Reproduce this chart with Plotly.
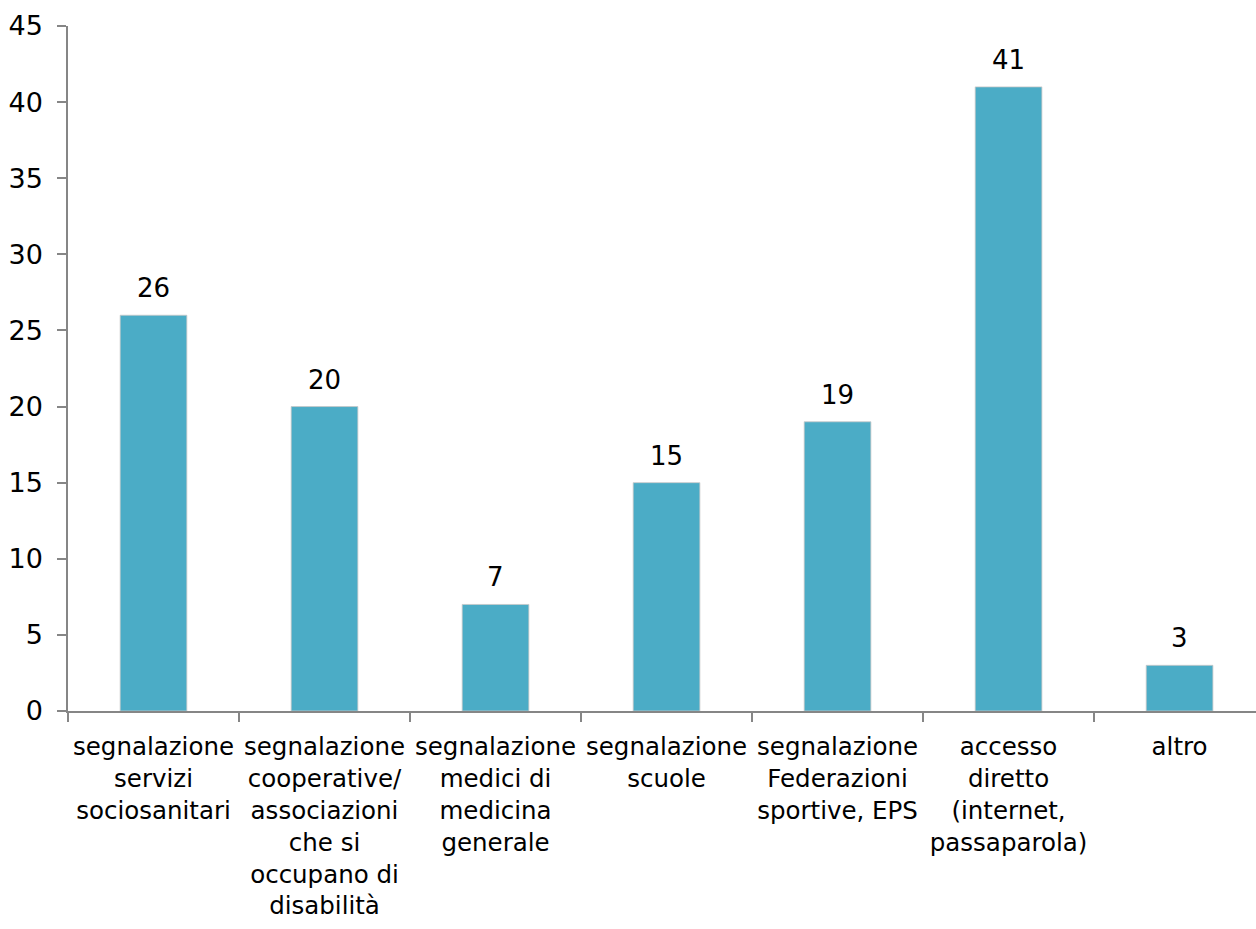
import plotly.graph_objects as go

categories = [
    "segnalazione<br>servizi<br>sociosanitari",
    "segnalazione<br>cooperative/<br>associazioni<br>che si<br>occupano di<br>disabilità",
    "segnalazione<br>medici di<br>medicina<br>generale",
    "segnalazione<br>scuole",
    "segnalazione<br>Federazioni<br>sportive, EPS",
    "accesso<br>diretto<br>(internet,<br>passaparola)",
    "altro",
]
values = [26, 20, 7, 15, 19, 41, 3]
y_ticks = [0, 5, 10, 15, 20, 25, 30, 35, 40, 45]

FONT = "DejaVu Sans"
xpos = list(range(len(categories)))

fig = go.Figure(
    go.Bar(
        x=xpos,
        y=values,
        width=0.39,
        marker=dict(color="#4BACC6", line=dict(color="rgba(200,200,200,0.8)", width=1)),
        cliponaxis=False,
        hoverinfo="x+y",
    )
)

for xi, v in zip(xpos, values):
    fig.add_annotation(
        x=xi, y=v, text=str(v), showarrow=False,
        yanchor="bottom", yshift=10,
        font=dict(family=FONT, size=26, color="#000000"),
    )

fig.update_layout(
    width=1256,
    height=929,
    margin=dict(l=68, r=0, t=26, b=218),
    paper_bgcolor="white",
    plot_bgcolor="white",
    showlegend=False,
    font=dict(family=FONT, size=24, color="#000000"),
)

fig.update_xaxes(
    tickmode="array",
    tickvals=xpos,
    ticktext=categories,
    range=[-0.5, 6.447],
    automargin=False,
    showline=True,
    linecolor="#868686",
    linewidth=1.5,
    ticks="outside",
    ticklen=13,
    tickcolor="rgba(0,0,0,0)",
    showgrid=False,
    zeroline=False,
    tickangle=0,
    tickfont=dict(family=FONT, size=24.5, color="#000000"),
    minor=dict(tickvals=[-0.5 + i for i in range(8)], ticks="outside", ticklen=9, tickcolor="#868686", tickwidth=1.5),
)

fig.update_yaxes(
    range=[0, 45],
    tickvals=y_ticks,
    automargin=False,
    showline=True,
    linecolor="#868686",
    linewidth=1.5,
    ticks="outside",
    ticklen=9,
    tickcolor="#868686",
    tickwidth=1.5,
    ticklabelstandoff=9,
    showgrid=False,
    zeroline=False,
    tickfont=dict(family=FONT, size=27, color="#000000"),
)

fig.write_html(
    "out.html",
    config={"displayModeBar": False},
    post_script="document.body.style.margin='0';document.body.style.overflow='hidden';",
)
